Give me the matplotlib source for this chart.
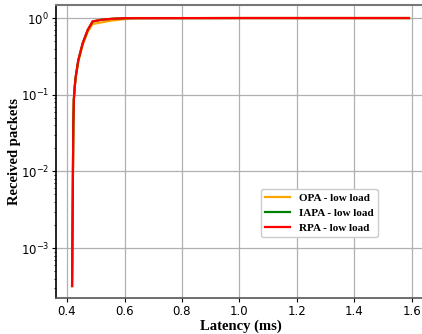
import matplotlib
matplotlib.use("Agg")
import matplotlib.pyplot as plt

# Received packets CDF vs latency (low load)
lat_opa = [0.4175, 0.4195, 0.4205, 0.422, 0.4235, 0.427, 0.430, 0.439, 0.4545, 0.472, 0.489, 0.55, 0.60, 0.63, 1.0, 1.59]
cdf_opa = [3.2e-4, 3e-3, 1e-2, 0.043, 0.085, 0.13, 0.165, 0.27, 0.45, 0.66, 0.835, 0.92, 0.97, 1.0, 1.0, 1.0]

lat_iapa = [0.4175, 0.4195, 0.4205, 0.422, 0.4235, 0.427, 0.430, 0.439, 0.4545, 0.472, 0.489, 0.52, 0.56, 0.60, 1.0, 1.59]
cdf_iapa = [3.2e-4, 3e-3, 1e-2, 0.043, 0.085, 0.13, 0.17, 0.28, 0.47, 0.70, 0.90, 0.95, 0.98, 0.995, 1.0, 1.0]

lat_rpa = [0.4175, 0.4195, 0.4205, 0.422, 0.4235, 0.427, 0.430, 0.439, 0.4545, 0.472, 0.489, 0.52, 0.56, 0.60, 1.0, 1.59]
cdf_rpa = [3.2e-4, 3e-3, 1e-2, 0.043, 0.085, 0.13, 0.17, 0.28, 0.47, 0.70, 0.905, 0.95, 0.98, 0.995, 1.0, 1.0]

labels = ["OPA - low load", "IAPA - low load", "RPA - low load"]
colors = ["orange", "green", "red"]

fig = plt.figure(figsize=(4.22, 3.34), dpi=100)
ax = fig.add_axes([0.133, 0.108, 0.877, 0.877])

for x, y, lab, c in zip([lat_opa, lat_iapa, lat_rpa], [cdf_opa, cdf_iapa, cdf_rpa], labels, colors):
    ax.plot(x, y, color=c, lw=1.6, label=lab)

ax.set_yscale("log")
ax.set_xlim(0.362, 1.65)
ax.set_ylim(10 ** -3.65, 10 ** 0.17)
ax.set_xticks([0.4, 0.6, 0.8, 1.0, 1.2, 1.4, 1.6])
ax.grid(True, which="major", color="#b0b0b0", lw=0.9)
ax.tick_params(which="major", labelsize=8.5, length=3, pad=2)
ax.tick_params(which="minor", length=1.5)

ax.spines["top"].set_color("#777777")
ax.spines["top"].set_linewidth(1.5)
ax.spines["bottom"].set_color("#555555")
ax.spines["bottom"].set_linewidth(1.2)
ax.spines["left"].set_color("black")
ax.spines["left"].set_linewidth(1.2)

ax.set_xlabel("Latency (ms)", family="Liberation Serif", fontweight="bold", fontsize=10.5, labelpad=1)
ax.set_ylabel("Received packets", family="Liberation Serif", fontweight="bold", fontsize=10.5, labelpad=0)

ax.legend(loc="center", bbox_to_anchor=(0.711, 0.29), prop={"family": "Liberation Serif", "weight": "bold", "size": 8},
          framealpha=1.0, handlelength=2.2, labelspacing=0.45)

fig.savefig("out.png", dpi=100)
